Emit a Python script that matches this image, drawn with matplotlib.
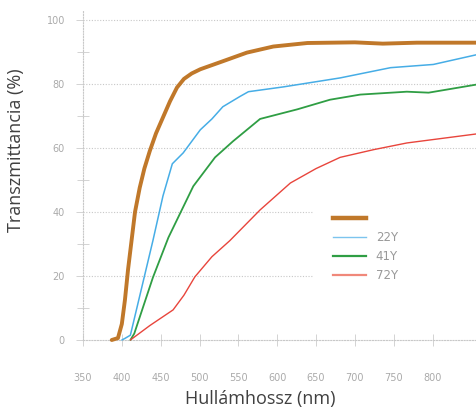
import matplotlib.pyplot as plt
from matplotlib.lines import Line2D

# wavelength (nm) / transmittance (%)
orange_nm = [387, 395, 400, 404, 408, 413, 417, 423, 429, 436, 444, 453, 462, 471, 480, 490, 501, 530, 561, 595, 639, 700, 736, 780, 856]
orange_t = [0, 0.6, 5, 12.5, 22, 32, 40, 47.5, 53.5, 59, 64.5, 69.5, 74.5, 78.8, 81.5, 83.2, 84.5, 87, 89.7, 91.6, 92.7, 92.9, 92.5, 92.8, 92.8]

blue_nm = [400, 404, 411, 440, 453, 465, 479, 501, 516, 530, 552, 563, 608, 681, 746, 801, 856]
blue_t = [0, 0.5, 1.5, 31, 45, 55, 58.4, 65.6, 69, 72.8, 76, 77.5, 79, 81.8, 85, 86, 89]

green_nm = [411, 416, 440, 460, 492, 520, 543, 578, 626, 668, 707, 767, 795, 856]
green_t = [0, 2, 19.5, 32, 48, 57, 62, 69, 72, 75, 76.6, 77.5, 77.2, 79.7]

red_nm = [411, 436, 466, 480, 494, 516, 539, 578, 617, 650, 681, 724, 767, 856]
red_t = [0, 4.5, 9.4, 14, 19.7, 26, 31, 40.6, 49, 53.5, 57, 59.4, 61.5, 64.3]

labels = ['', '22Y', '41Y', '72Y']
colors = ['#c0782a', '#46ade6', '#2f9e44', '#e8453c']
x_ticks = [350, 400, 450, 500, 550, 600, 650, 700, 750, 800]
y_ticks = [0, 20, 40, 60, 80, 100]

fig = plt.figure(figsize=(4.76, 4.08), dpi=100)
ax = fig.add_axes([83 / 476, 68 / 408, 393 / 476, 330 / 408])
ax.set_xlim(350, 856)
ax.set_ylim(0, 103)

grid_kw = dict(color='#c8c8c8', linestyle=(0, (1, 1.5)), linewidth=0.8, zorder=0)
for y in [60, 80, 100]:
    ax.axhline(y, **grid_kw)
for y in [20, 40]:
    ax.axhline(y, xmin=0, xmax=0.585, **grid_kw)

series = [(orange_nm, orange_t), (blue_nm, blue_t), (green_nm, green_t), (red_nm, red_t)]
widths = [2.8, 1.1, 1.3, 1.0]
for (xs, ys), c, w in zip(series, colors, widths):
    ax.plot(xs, ys, color=c, linewidth=w, clip_on=False, zorder=3,
            solid_capstyle='round', solid_joinstyle='round')

for s in ['top', 'right']:
    ax.spines[s].set_visible(False)
for s in ['left', 'bottom']:
    ax.spines[s].set_color('#c8c8c8')
    ax.spines[s].set_linestyle((0, (1, 1.5)))
    ax.spines[s].set_linewidth(0.8)

ax.set_xticks(x_ticks)
ax.set_yticks(y_ticks)
ax.set_yticks([10, 30, 50, 70, 90], minor=True)
ax.tick_params(axis='x', direction='inout', length=8, width=0.6, color='#cccccc',
               pad=20, labelsize=7, labelcolor='#aaaaaa')
ax.tick_params(axis='y', direction='out', length=5, width=0.6, color='#cccccc',
               pad=8, labelsize=7, labelcolor='#aaaaaa')
ax.tick_params(axis='y', which='minor', direction='inout', length=8, width=0.6, color='#cccccc')

ax.set_xlabel('Hullámhossz (nm)', fontsize=13, color='#404040', family='Open Sans')
ax.set_ylabel('Transzmittancia (%)', fontsize=13, color='#404040', family='Open Sans')
ax.xaxis.set_label_coords(0.45, -0.152)
ax.yaxis.set_label_coords(-0.148, 0.576)

handles = [Line2D([], [], color=c, linewidth=w) for c, w in zip(colors, [3.2, 1.0, 1.6, 1.6])]
handles[3].set_color('#f0887a')
handles[1].set_color('#7cc4ee')
leg = ax.legend(handles, labels, loc='upper left', bbox_to_anchor=(0.62, 0.405),
                frameon=False, fontsize=8.5, handlelength=2.8, handletextpad=0.85,
                labelspacing=0.5, borderpad=0)
for t in leg.get_texts():
    t.set_color('#999999')

fig.savefig('out.png', dpi=100)
